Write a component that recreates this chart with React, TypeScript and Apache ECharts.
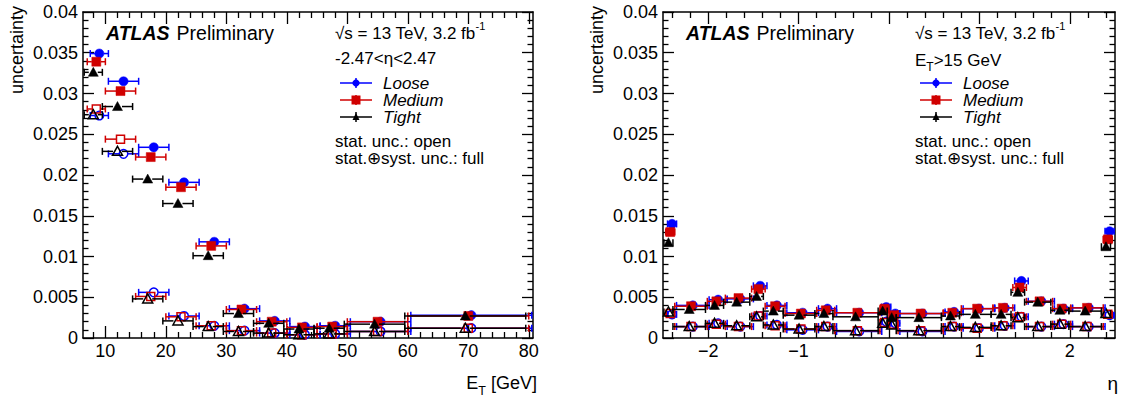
import React, { useEffect, useRef } from 'react';
import * as echarts from 'echarts';

const FONT = '"Liberation Sans", Arial, Helvetica, sans-serif';

// ---------- left panel: E_T bins ----------
const etEdges = [7, 10, 15, 20, 25, 30, 35, 40, 45, 50, 60, 80];
const etLooseFull = [0.0349, 0.0315, 0.0234, 0.0191, 0.0118, 0.0036, 0.0021, 0.0014, 0.0015, 0.0020, 0.0028];
const etMediumFull = [0.0339, 0.0303, 0.0222, 0.0185, 0.0113, 0.0035, 0.0020, 0.0013, 0.0014, 0.0020, 0.0027];
const etTightFull = [0.0326, 0.0284, 0.0195, 0.0165, 0.0101, 0.0030, 0.0018, 0.0011, 0.0012, 0.0017, 0.0027];
const etLooseStat = [0.0273, 0.0226, 0.0056, 0.0027, 0.0015, 0.0009, 0.0006, 0.0004, 0.0005, 0.0008, 0.0012];
const etMediumStat = [0.0281, 0.0244, 0.0051, 0.0026, 0.0015, 0.0009, 0.0006, 0.0004, 0.0005, 0.0008, 0.0012];
const etTightStat = [0.0274, 0.0229, 0.0048, 0.0021, 0.0014, 0.0008, 0.0006, 0.0004, 0.0005, 0.0008, 0.0012];

// ---------- right panel: eta bins ----------
const etaEdges = [-2.47, -2.37, -2.01, -1.81, -1.52, -1.37, -1.15, -0.8, -0.6, -0.1, 0, 0.1, 0.6, 0.8, 1.15, 1.37, 1.52, 1.81, 2.01, 2.37, 2.47];
const etaLooseFull = [0.0140, 0.0040, 0.0047, 0.0048, 0.0064, 0.0040, 0.0031, 0.0036, 0.0031, 0.0038, 0.0030, 0.0030, 0.0032, 0.0036, 0.0037, 0.0070, 0.0045, 0.0036, 0.0037, 0.0131];
const etaMediumFull = [0.0130, 0.0039, 0.0045, 0.0049, 0.0060, 0.0039, 0.0030, 0.0034, 0.0031, 0.0036, 0.0028, 0.0030, 0.0031, 0.0036, 0.0037, 0.0062, 0.0045, 0.0036, 0.0037, 0.0121];
const etaTightFull = [0.0117, 0.0035, 0.0040, 0.0044, 0.0051, 0.0033, 0.0028, 0.0030, 0.0026, 0.0033, 0.0025, 0.0025, 0.0027, 0.0029, 0.0029, 0.0056, 0.0044, 0.0034, 0.0033, 0.0112];
const etaLooseStat = [0.0029, 0.0014, 0.0018, 0.0014, 0.0027, 0.0016, 0.0010, 0.0014, 0.0008, 0.0020, 0.0018, 0.0008, 0.0014, 0.0012, 0.0015, 0.0026, 0.0014, 0.0017, 0.0014, 0.0028];
const etaMediumStat = [0.0030, 0.0014, 0.0017, 0.0014, 0.0027, 0.0015, 0.0011, 0.0014, 0.0009, 0.0019, 0.0017, 0.0009, 0.0014, 0.0012, 0.0015, 0.0026, 0.0014, 0.0017, 0.0014, 0.0029];
const etaTightStat = [0.0032, 0.0014, 0.0018, 0.0015, 0.0026, 0.0016, 0.0011, 0.0014, 0.0009, 0.0018, 0.0016, 0.0009, 0.0014, 0.0013, 0.0015, 0.0025, 0.0014, 0.0017, 0.0014, 0.0030];

// ---------- axis ticks ----------
const yMajor = [0, 0.005, 0.01, 0.015, 0.02, 0.025, 0.03, 0.035, 0.04];
const etMajor = [10, 20, 30, 40, 50, 60, 70, 80];
const etaMajor = [-2, -1, 0, 1, 2];

const BLUE = '#0000ff';
const RED = '#d00000';
const BLACK = '#000000';

const yMinor: number[] = [];
for (let i = 1; i < 40; i++) if (i % 5 !== 0) yMinor.push(Number((i * 0.001).toFixed(4)));
const etMinor: number[] = [];
for (let v = 8; v <= 80; v += 2) if (v % 10 !== 0) etMinor.push(v);
const etaMinor: number[] = [];
for (let i = -12; i <= 12; i++) if (i % 5 !== 0) etaMinor.push(Number((i * 0.2).toFixed(2)));

function binData(edges: number[], values: number[], shift: number) {
  return values.map((v, i) => [edges[i] + shift, edges[i + 1] + shift, (edges[i] + edges[i + 1]) / 2 + shift, v]);
}

function errSeries(xi: number, yi: number, data: number[][], color: string, shape: string, open: boolean) {
  return {
    type: 'custom',
    xAxisIndex: xi,
    yAxisIndex: yi,
    data,
    encode: { x: [0, 1, 2], y: 3 },
    clip: false,
    silent: true,
    renderItem: (params: any, api: any) => {
      const y = api.value(3);
      const pL = api.coord([api.value(0), y]);
      const pR = api.coord([api.value(1), y]);
      const pC = api.coord([api.value(2), y]);
      const ls = { stroke: color, lineWidth: 1.5 };
      const r = 4.5;
      const cap = 3.5;
      const children: any[] = [
        { type: 'line', shape: { x1: pL[0], y1: pL[1], x2: Math.max(pL[0], pC[0] - r), y2: pC[1] }, style: ls },
        { type: 'line', shape: { x1: Math.min(pR[0], pC[0] + r), y1: pC[1], x2: pR[0], y2: pR[1] }, style: ls },
        { type: 'line', shape: { x1: pL[0], y1: pL[1] - cap, x2: pL[0], y2: pL[1] + cap }, style: ls },
        { type: 'line', shape: { x1: pR[0], y1: pR[1] - cap, x2: pR[0], y2: pR[1] + cap }, style: ls },
      ];
      const ms = open ? { fill: 'none', stroke: color, lineWidth: 1.5 } : { fill: color, stroke: color, lineWidth: 0.5 };
      if (shape === 'circle') {
        children.push({ type: 'circle', shape: { cx: pC[0], cy: pC[1], r: open ? 4.3 : 4.6 }, style: ms });
      } else if (shape === 'rect') {
        const s = open ? 8 : 9;
        children.push({ type: 'rect', shape: { x: pC[0] - s / 2, y: pC[1] - s / 2, width: s, height: s }, style: ms });
      } else {
        const s = 5;
        children.push({
          type: 'polygon',
          shape: { points: [[pC[0], pC[1] - s], [pC[0] + s, pC[1] + s * 0.8], [pC[0] - s, pC[1] + s * 0.8]] },
          style: ms,
        });
      }
      return { type: 'group', children };
    },
  };
}

const axisLineStyle = { color: '#000', width: 1.5 };
const tickStyle = { color: '#000', width: 1.3 };

function xAxes(gridIndex: number, min: number, max: number, major: number[], minor: number[], fmt: (v: number) => string) {
  const base = { type: 'value', gridIndex, min, max, splitLine: { show: false } };
  return [
    {
      ...base, position: 'bottom',
      axisLine: { show: true, onZero: false, lineStyle: axisLineStyle },
      axisTick: { show: true, inside: true, length: 12, customValues: major, lineStyle: tickStyle },
      axisLabel: { show: true, customValues: major, formatter: fmt, fontSize: 18, fontFamily: FONT, color: '#000', margin: 4 },
    },
    {
      ...base, position: 'bottom',
      axisLine: { show: false, onZero: false },
      axisTick: { show: true, inside: true, length: 6, customValues: minor, lineStyle: tickStyle },
      axisLabel: { show: false },
    },
    {
      ...base, position: 'top',
      axisLine: { show: true, onZero: false, lineStyle: axisLineStyle },
      axisTick: { show: true, inside: true, length: 12, customValues: major, lineStyle: tickStyle },
      axisLabel: { show: false },
    },
    {
      ...base, position: 'top',
      axisLine: { show: false, onZero: false },
      axisTick: { show: true, inside: true, length: 6, customValues: minor, lineStyle: tickStyle },
      axisLabel: { show: false },
    },
  ];
}

function yAxes(gridIndex: number) {
  const base = { type: 'value', gridIndex, min: 0, max: 0.04, splitLine: { show: false } };
  return [
    {
      ...base, position: 'left',
      axisLine: { show: true, onZero: false, lineStyle: axisLineStyle },
      axisTick: { show: true, inside: true, length: 11, customValues: yMajor, lineStyle: tickStyle },
      axisLabel: { show: true, customValues: yMajor, formatter: (v: number) => String(v), fontSize: 18, fontFamily: FONT, color: '#000', margin: 5 },
    },
    {
      ...base, position: 'left',
      axisLine: { show: false, onZero: false },
      axisTick: { show: true, inside: true, length: 5.5, customValues: yMinor, lineStyle: tickStyle },
      axisLabel: { show: false },
    },
    {
      ...base, position: 'right',
      axisLine: { show: true, onZero: false, lineStyle: axisLineStyle },
      axisTick: { show: true, inside: true, length: 11, customValues: yMajor, lineStyle: tickStyle },
      axisLabel: { show: false },
    },
    {
      ...base, position: 'right',
      axisLine: { show: false, onZero: false },
      axisTick: { show: true, inside: true, length: 5.5, customValues: yMinor, lineStyle: tickStyle },
      axisLabel: { show: false },
    },
  ];
}

const txt = (x: number, y: number, text: string, extra: any = {}) => ({
  type: 'text',
  x, y,
  silent: true,
  style: {
    text, fontFamily: FONT, fontSize: 17, fill: '#000', verticalAlign: 'middle', align: 'left',
    ...extra,
  },
});

const rich = {
  n: { fontFamily: FONT, fontSize: 17, lineHeight: 26, verticalAlign: 'middle', fill: '#000' },
  sub: { fontFamily: FONT, fontSize: 12, lineHeight: 16, verticalAlign: 'bottom', fill: '#000' },
  sup: { fontFamily: FONT, fontSize: 11, lineHeight: 14, verticalAlign: 'top', fill: '#000' },
  a: { fontFamily: FONT, fontSize: 19.5, fontWeight: 'bold', fontStyle: 'italic', fill: '#000', padding: [0, 7, 0, 0] },
  b: { fontFamily: FONT, fontSize: 19.5, fill: '#000' },
  xn: { fontFamily: FONT, fontSize: 18, lineHeight: 28, verticalAlign: 'middle', fill: '#000' },
  xsub: { fontFamily: FONT, fontSize: 12.5, lineHeight: 17, verticalAlign: 'bottom', fill: '#000' },
};

function legendMarker(cx: number, cy: number, shape: string, color: string) {
  const els: any[] = [
    { type: 'line', silent: true, shape: { x1: cx - 16, y1: cy, x2: cx + 16, y2: cy }, style: { stroke: color, lineWidth: 1.5 } },
    { type: 'line', silent: true, shape: { x1: cx, y1: cy - 5, x2: cx, y2: cy + 5 }, style: { stroke: color, lineWidth: 1.5 } },
  ];
  if (shape === 'circle') els.push({ type: 'circle', silent: true, shape: { cx, cy, r: 3.6 }, style: { fill: color } });
  else if (shape === 'rect') els.push({ type: 'rect', silent: true, shape: { x: cx - 4.5, y: cy - 4.5, width: 9, height: 9 }, style: { fill: color } });
  else els.push({ type: 'polygon', silent: true, shape: { points: [[cx, cy - 4], [cx + 3.5, cy + 3], [cx - 3.5, cy + 3]] }, style: { fill: color } });
  return els;
}

function panelGraphics(ox: number, isEta: boolean) {
  const els: any[] = [];
  els.push({
    type: 'text', x: 106 + ox, y: 33, silent: true,
    style: { text: '{a|ATLAS}{b|Preliminary}', rich, verticalAlign: 'middle' },
  });
  els.push({
    type: 'text', x: 335 + ox, y: 33, silent: true,
    style: { text: '{n|√s = 13 TeV, 3.2 fb}{sup|-1}', rich, verticalAlign: 'middle' },
  });
  if (isEta) {
    els.push({ type: 'text', x: 335 + ox, y: 60, silent: true, style: { text: '{n|E}{sub|T}{n|>15 GeV}', rich, verticalAlign: 'middle' } });
  } else {
    els.push(txt(335 + ox, 58, '-2.47<η<2.47'));
  }
  const names = ['Loose', 'Medium', 'Tight'];
  const shapes = ['circle', 'rect', 'tri'];
  const colors = [BLUE, RED, BLACK];
  const ys = [83, 100, 117];
  for (let i = 0; i < 3; i++) {
    els.push(...legendMarker(356 + ox, ys[i], shapes[i], colors[i]));
    els.push(txt(383 + ox, ys[i], names[i], { fontStyle: 'italic' }));
  }
  els.push(txt(335 + ox, 141, 'stat. unc.: open'));
  els.push(txt(335 + ox, 158, 'stat.⊕syst. unc.: full'));
  // y-axis title
  els.push({
    type: 'text', x: 17 + ox, y: 6, rotation: Math.PI / 2, silent: true,
    style: { text: 'uncertainty', fontFamily: FONT, fontSize: 18, fill: '#000', align: 'right', verticalAlign: 'middle' },
  });
  // x-axis title
  if (isEta) {
    els.push({ type: 'text', x: 1118, y: 383, silent: true, style: { text: 'η', fontFamily: FONT, fontSize: 19, fill: '#000', align: 'right', verticalAlign: 'middle' } });
  } else {
    els.push({ type: 'text', x: 537, y: 383, silent: true, style: { text: '{xn|E}{xsub|T}{xn| [GeV]}', rich, align: 'right', verticalAlign: 'middle' } });
  }
  return els;
}

export default function App() {
  const ref = useRef<HTMLDivElement>(null);
  useEffect(() => {
    if (!ref.current) return;
    const chart = echarts.init(ref.current, undefined, { renderer: 'svg' });
    const etFmt = (v: number) => String(v);
    const etaFmt = (v: number) => (v < 0 ? '\u2212' + Math.abs(v) : String(v));
    const dEt = 0.5;
    const dEta = 0.02;
    const option: any = {
      animation: false,
      backgroundColor: '#fff',
      grid: [
        { left: 83, top: 12, width: 450, height: 326 },
        { left: 663, top: 12, width: 452, height: 326 },
      ],
      xAxis: [
        ...xAxes(0, 6.3, 80.7, etMajor, etMinor, etFmt),
        ...xAxes(1, -2.5, 2.5, etaMajor, etaMinor, etaFmt),
      ],
      yAxis: [...yAxes(0), ...yAxes(1)],
      series: [
        errSeries(0, 0, binData(etEdges, etLooseStat, dEt), BLUE, 'circle', true),
        errSeries(0, 0, binData(etEdges, etMediumStat, 0), RED, 'rect', true),
        errSeries(0, 0, binData(etEdges, etTightStat, -dEt), BLACK, 'tri', true),
        errSeries(0, 0, binData(etEdges, etLooseFull, dEt), BLUE, 'circle', false),
        errSeries(0, 0, binData(etEdges, etMediumFull, 0), RED, 'rect', false),
        errSeries(0, 0, binData(etEdges, etTightFull, -dEt), BLACK, 'tri', false),
        errSeries(4, 4, binData(etaEdges, etaLooseStat, dEta), BLUE, 'circle', true),
        errSeries(4, 4, binData(etaEdges, etaMediumStat, 0), RED, 'rect', true),
        errSeries(4, 4, binData(etaEdges, etaTightStat, -dEta), BLACK, 'tri', true),
        errSeries(4, 4, binData(etaEdges, etaLooseFull, dEta), BLUE, 'circle', false),
        errSeries(4, 4, binData(etaEdges, etaMediumFull, 0), RED, 'rect', false),
        errSeries(4, 4, binData(etaEdges, etaTightFull, -dEta), BLACK, 'tri', false),
      ],
      graphic: [...panelGraphics(0, false), ...panelGraphics(580, true)],
    };
    chart.setOption(option);
    return () => chart.dispose();
  }, []);
  return (
    <div
      ref={ref}
      style={{ position: 'fixed', left: 0, top: 0, width: 1122, height: 398, background: '#fff' }}
    />
  );
}
